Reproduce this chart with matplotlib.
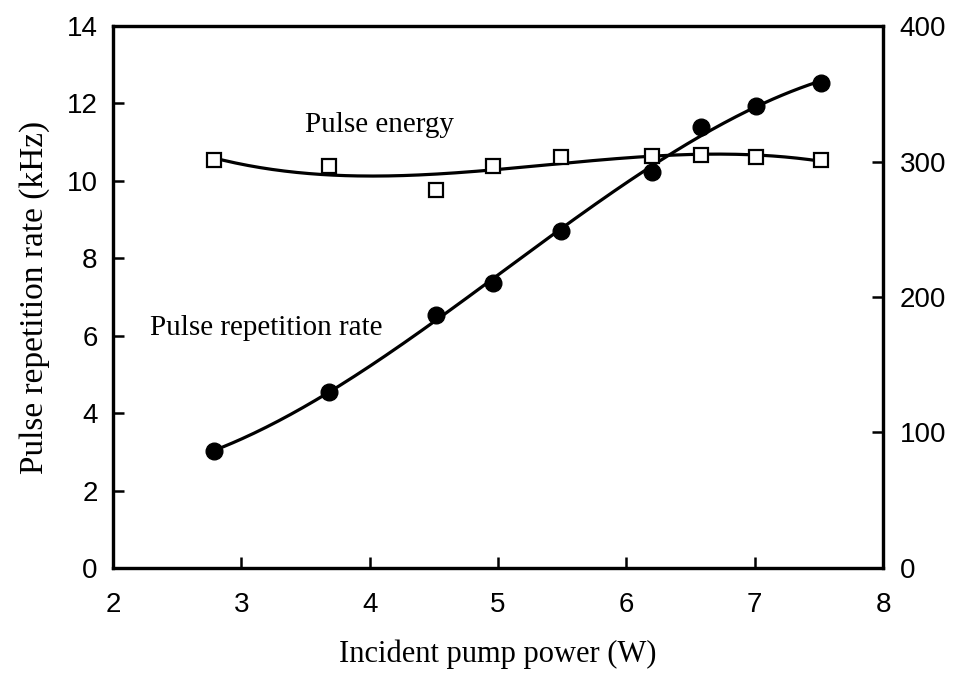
import numpy as np
import matplotlib.pyplot as plt

# data
power = [2.79, 3.68, 4.52, 4.96, 5.49, 6.20, 6.58, 7.01, 7.52]
rep_rate = [3.02, 4.55, 6.54, 7.36, 8.71, 10.23, 11.39, 11.93, 12.53]
energy = [301, 297, 279, 297, 303, 304, 305, 303, 301]

serif = 'Liberation Serif'
sans = 'Liberation Sans'

fig = plt.figure(figsize=(9.6, 6.76), dpi=100)
ax = fig.add_axes([0.1177, 0.1598, 0.8021, 0.8017])
ax2 = ax.twinx()

xs = np.linspace(power[0], power[-1], 200)

# smooth fitted curves
p_rate = np.polyfit(power, rep_rate, 3)
ax.plot(xs, np.polyval(p_rate, xs), 'k-', lw=2.3)
ax.plot(power, rep_rate, 'ko', ms=12)

p_en = np.polyfit(power, energy, 3)
ax2.plot(xs, np.polyval(p_en, xs), 'k-', lw=2.3)
ax2.plot(power, energy, 's', ms=10, mfc='white', mec='k', mew=1.6)

ax.set_xlim(2, 8)
ax.set_ylim(0, 14)
ax2.set_ylim(0, 400)
ax.set_xticks(range(2, 9))
ax.set_yticks(range(0, 15, 2))
ax2.set_yticks(range(0, 401, 100))

for a in (ax, ax2):
    a.tick_params(direction='in', length=8, width=1.8, labelsize=20, pad=11)
    for lab in a.get_xticklabels() + a.get_yticklabels():
        lab.set_family(sans)
    for s in a.spines.values():
        s.set_linewidth(2.3)
ax.tick_params(axis='x', pad=17)
ax2.tick_params(axis='y', pad=12)

ax.set_xlabel('Incident pump power (W)', family=serif, fontsize=22, labelpad=16)
ax.set_ylabel('Pulse repetition rate (kHz)', family=serif, fontsize=24, labelpad=12)

ax.text(4.08, 11.44, 'Pulse energy', family=serif, fontsize=21, ha='center', va='center')
ax.text(2.29, 6.2, 'Pulse repetition rate', family=serif, fontsize=21, ha='left', va='center')

fig.savefig('out.png', dpi=100)
